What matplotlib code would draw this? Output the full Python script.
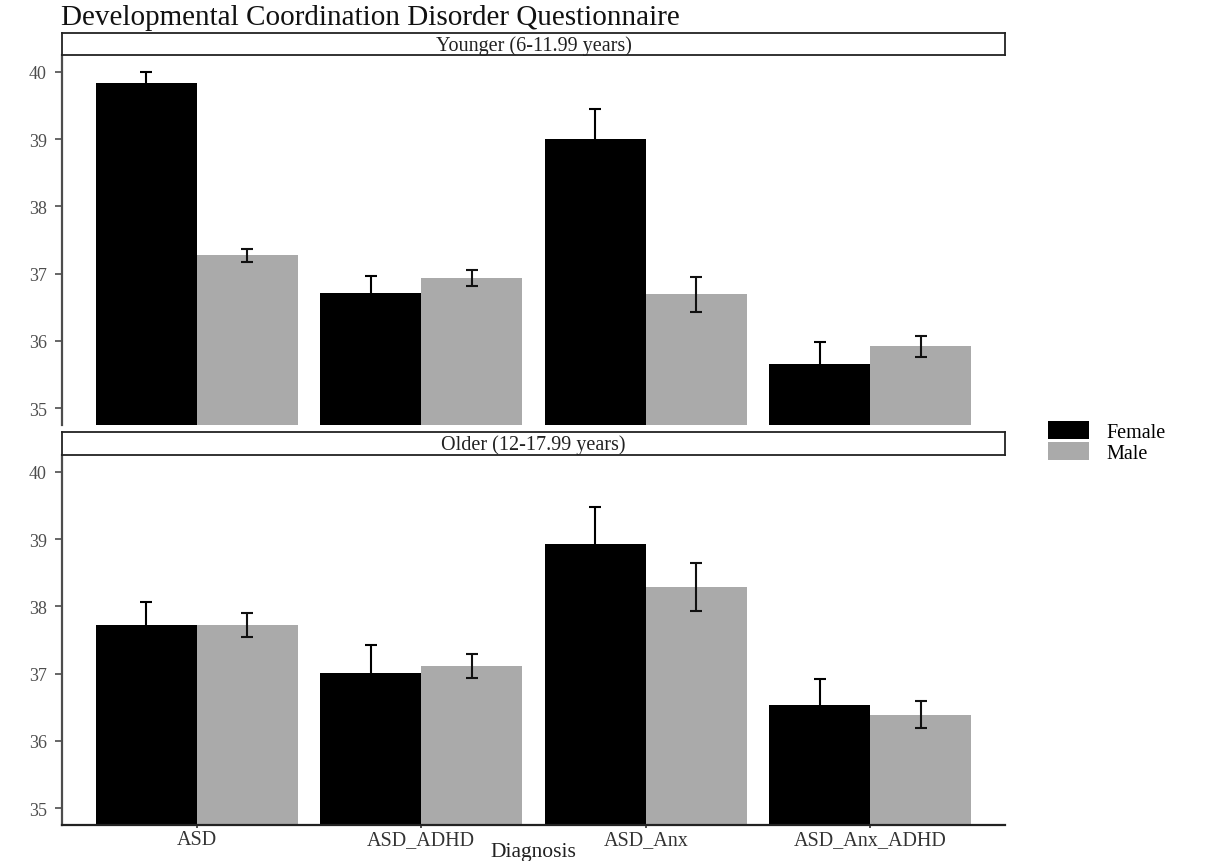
import matplotlib
matplotlib.use("Agg")
import matplotlib.pyplot as plt
from matplotlib.patches import Patch
import numpy as np

plt.rcParams['font.family'] = ['Liberation Serif', 'DejaVu Serif']

# ---- data ----
diagnoses = ["ASD", "ASD_ADHD", "ASD_Anx", "ASD_Anx_ADHD"]
sexes = ["Female", "Male"]
panels = ["Younger (6-11.99 years)", "Older (12-17.99 years)"]

young_female = [39.83, 36.71, 39.00, 35.66]
young_female_se = [0.17, 0.25, 0.44, 0.32]
young_male = [37.27, 36.94, 36.69, 35.92]
young_male_se = [0.10, 0.12, 0.26, 0.16]

old_female = [37.72, 37.01, 38.93, 36.54]
old_female_se = [0.35, 0.42, 0.55, 0.38]
old_male = [37.72, 37.11, 38.29, 36.39]
old_male_se = [0.18, 0.18, 0.355, 0.20]

y_ticks = [35, 36, 37, 38, 39, 40]
title = "Developmental Coordination Disorder Questionnaire"
x_label = "Diagnosis"

colors = {"Female": "#000000", "Male": "#aaaaaa"}

W_PX, H_PX = 1206, 862
fig = plt.figure(figsize=(W_PX / 100, H_PX / 100), dpi=100)
fig.patch.set_facecolor("white")


def fx(px):
    return px / W_PX


def fy(py):
    return 1 - py / H_PX


left_px, right_px = 62, 1005
L = fx(left_px)
Wd = fx(right_px) - fx(left_px)

panel_boxes = [(56, 426), (456, 826)]
strip_boxes = [(34, 56), (433, 456)]
strip_baselines = [50.5, 450.5]
data = [
    (young_female, young_female_se, young_male, young_male_se),
    (old_female, old_female_se, old_male, old_male_se),
]

x = np.arange(1, len(diagnoses) + 1)
bw = 0.45
for i, ((top, bot), (st, sb)) in enumerate(zip(panel_boxes, strip_boxes)):
    ax = fig.add_axes([L, fy(bot), Wd, fy(top) - fy(bot)])
    f, fse, m, mse = data[i]
    ax.bar(x - bw / 2, f, width=bw, color=colors["Female"], zorder=2)
    ax.bar(x + bw / 2, m, width=bw, color=colors["Male"], zorder=2)
    ax.errorbar(x - bw / 2, f, yerr=fse, fmt="none", ecolor="#000000",
                elinewidth=1.5, capsize=4.3, capthick=1.5, zorder=3)
    ax.errorbar(x + bw / 2, m, yerr=mse, fmt="none", ecolor="#111111",
                elinewidth=1.5, capsize=4.3, capthick=1.5, zorder=3)
    ax.set_xlim(0.4, 4.6)
    ax.set_ylim(34.75, 40.25)
    ax.set_yticks(y_ticks)
    ax.set_yticklabels([str(t) for t in y_ticks], fontsize=13, color="#4d4d4d")
    ax.tick_params(axis="y", length=5, width=1.2, color="#4d4d4d", pad=6)
    for s in ["top", "right"]:
        ax.spines[s].set_visible(False)
    ax.spines["left"].set_color("#4d4d4d")
    ax.spines["left"].set_linewidth(1.6)
    if i == 0:
        ax.spines["bottom"].set_visible(False)
        ax.set_xticks([])
    else:
        ax.spines["bottom"].set_color("#222222")
        ax.spines["bottom"].set_linewidth(1.6)
        ax.set_xticks(x)
        ax.set_xticklabels(diagnoses, fontsize=14.5, color="#333333")
        for lab in ax.get_xticklabels():
            lab.set_va("baseline")
        ax.tick_params(axis="x", length=2.5, width=1.2, color="#333333",
                       pad=11.2)
    ax.set_facecolor("white")

    # strip
    sax = fig.add_axes([L, fy(sb), Wd, fy(st) - fy(sb)])
    sax.set_xticks([])
    sax.set_yticks([])
    for s in sax.spines.values():
        s.set_color("#222222")
        s.set_linewidth(1.3)
    fig.text(fx((left_px + right_px) / 2), fy(strip_baselines[i]), panels[i],
             ha="center", va="baseline", fontsize=14.5, color="#222222")

fig.text(fx(61), fy(25), title, ha="left", va="baseline", fontsize=21,
         color="#111111")
fig.text(fx(533), fy(857), x_label, ha="center", va="baseline", fontsize=15.5,
         color="#222222")

handles = [Patch(facecolor=colors[s], edgecolor="none") for s in sexes]
fs = 14.5
fs_px = fs * 100 / 72
fig.legend(handles, sexes, loc="upper left",
           bbox_to_anchor=(fx(1048), fy(422)), frameon=False, fontsize=fs,
           handlelength=41 / fs_px, handleheight=20 / fs_px,
           labelspacing=0.0, handletextpad=0.85, borderpad=0,
           borderaxespad=0)

fig.savefig("out.png", dpi=100, facecolor="white")
